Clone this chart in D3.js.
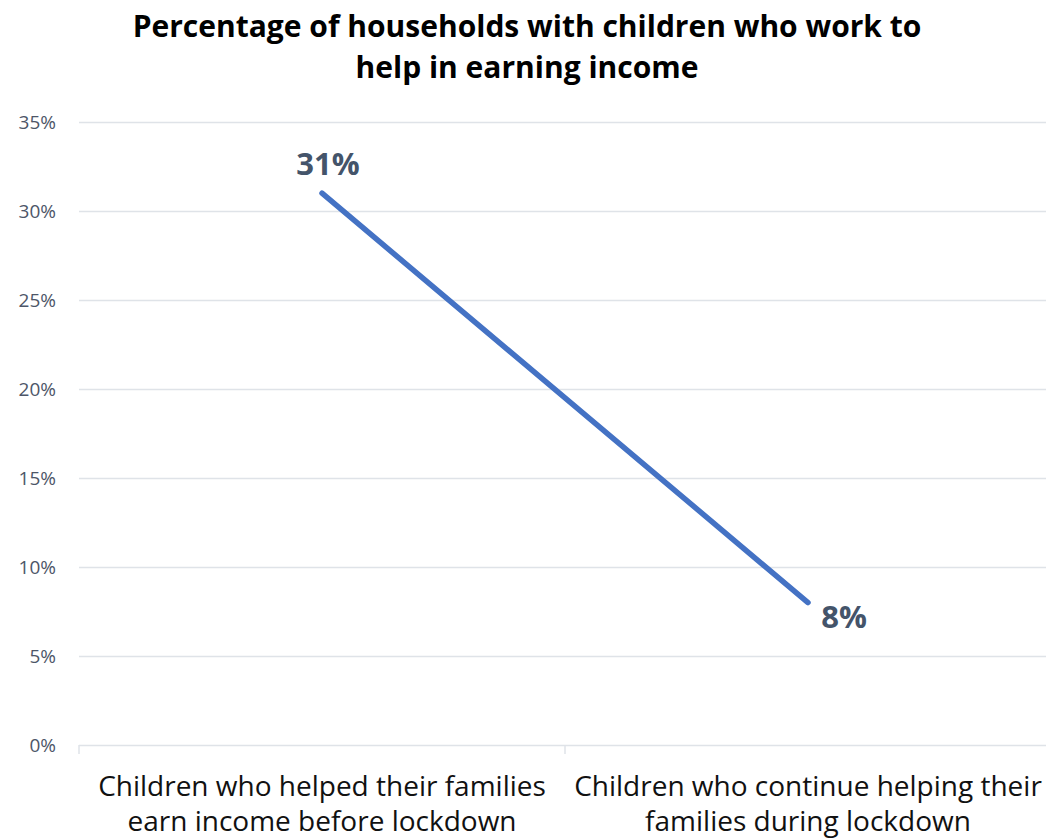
<!DOCTYPE html>
<html><head><meta charset="utf-8">
<script src="https://cdn.jsdelivr.net/npm/d3@7"></script>
<style>body{margin:0;background:#fff}svg{display:block}</style>
</head><body>
<svg id="chart" width="1046" height="840"></svg>
<script>
const titleLines = ["Percentage of households with children who work to", "help in earning income"];
const categories = ["Children who helped their families earn income before lockdown", "Children who continue helping their families during lockdown"];
const categoryLines = [["Children who helped their families", "earn income before lockdown"], ["Children who continue helping their", "families during lockdown"]];
const values = [31, 8];
const valueLabels = ["31%", "8%"];
const yTicks = [0, 5, 10, 15, 20, 25, 30, 35];

const svg = d3.select("#chart");
const font = "'Open Sans', sans-serif";
const m = {left: 79, right: 1051, top: 122, bottom: 745};

const x = d3.scaleBand().domain(categories).range([m.left, m.right]);
const y = d3.scaleLinear().domain([0, 35]).range([m.bottom, m.top]);

// title
svg.append("g").selectAll("text").data(titleLines).join("text")
  .attr("x", 527).attr("y", (d, i) => 37 + i * 41)
  .attr("text-anchor", "middle").attr("font-family", font)
  .attr("font-weight", "bold").attr("font-size", 30).attr("fill", "#000")
  .text(d => d);

// gridlines
const yAxis = d3.axisLeft(y).tickValues(yTicks).tickFormat(d => d + "%").tickSize(-(m.right - m.left)).tickPadding(23);
const gy = svg.append("g").attr("transform", `translate(${m.left},0)`).call(yAxis);
gy.select(".domain").remove();
gy.selectAll(".tick line").attr("stroke", "#dfe3e8").attr("stroke-width", 1.5);
gy.selectAll(".tick text").attr("font-family", font).attr("font-size", 19).attr("fill", "#4d5668");

// x axis ticks
const xt = [m.left, m.left + x.bandwidth(), m.right];
svg.append("g").selectAll("line").data(xt).join("line")
  .attr("x1", d => d).attr("x2", d => d).attr("y1", m.bottom).attr("y2", m.bottom + 9)
  .attr("stroke", "#dfe3e8").attr("stroke-width", 1.5);

// category labels
const cg = svg.append("g").selectAll("text").data(categories).join("text")
  .attr("text-anchor", "middle").attr("font-family", font).attr("font-size", 28).attr("fill", "#111");
cg.each(function(d, i) {
  d3.select(this).selectAll("tspan").data(categoryLines[i]).join("tspan")
    .attr("x", x(d) + x.bandwidth() / 2).attr("y", (t, j) => 796 + j * 35).text(t => t);
});

// line
const line = d3.line().x((d, i) => x(categories[i]) + x.bandwidth() / 2).y(d => y(d));
svg.append("path").datum(values).attr("d", line)
  .attr("fill", "none").attr("stroke", "#4472C4").attr("stroke-width", 5.5).attr("stroke-linecap", "round");

// data labels
const offsets = [[6, -18], [36, 25]];
svg.append("g").selectAll("text").data(values).join("text")
  .attr("x", (d, i) => x(categories[i]) + x.bandwidth() / 2 + offsets[i][0])
  .attr("y", (d, i) => y(d) + offsets[i][1])
  .attr("text-anchor", "middle").attr("font-family", font).attr("font-weight", "bold")
  .attr("font-size", 31).attr("fill", "#44546A")
  .text((d, i) => valueLabels[i]);
</script>
</body></html>
